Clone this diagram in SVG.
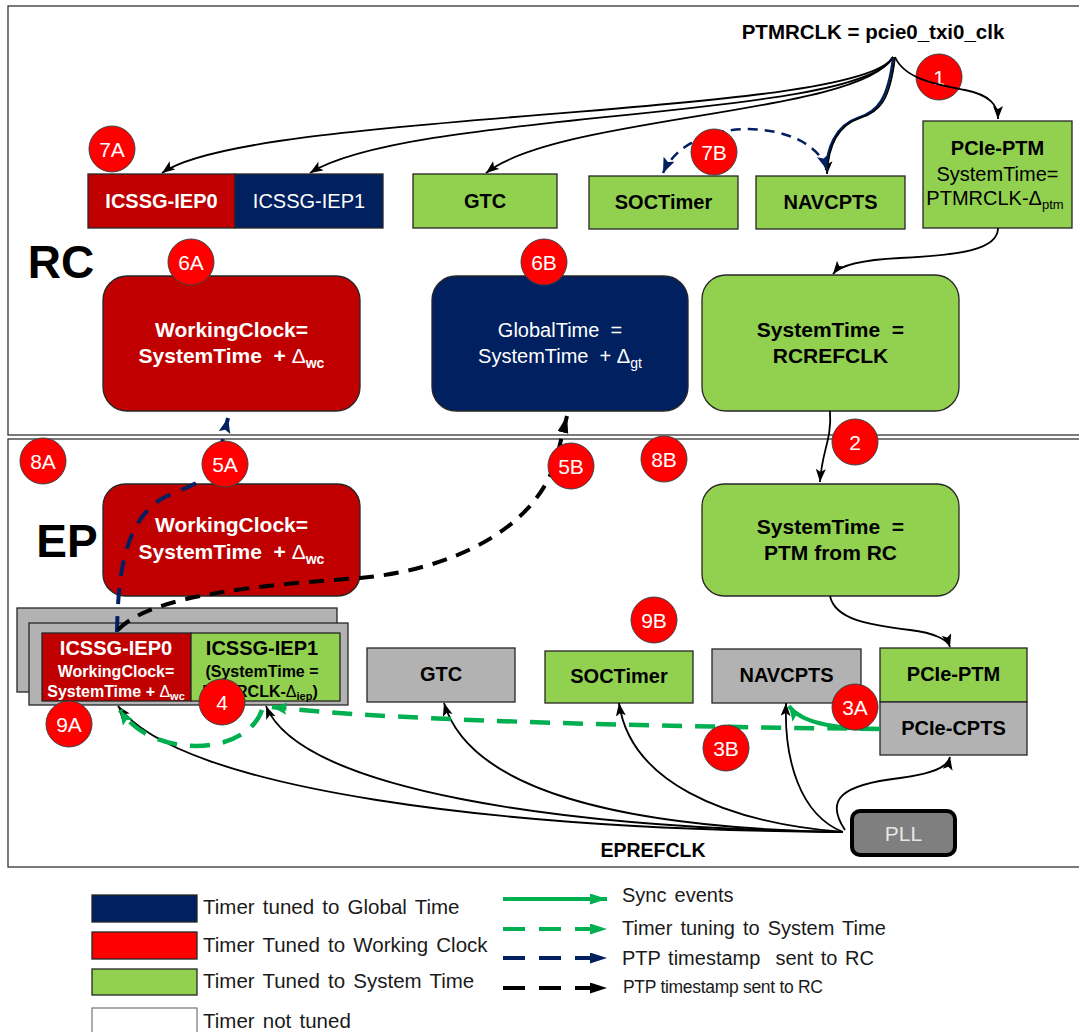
<svg xmlns="http://www.w3.org/2000/svg" width="1079" height="1032" viewBox="0 0 1079 1032">
  <style>
    .t { font-family: "Liberation Sans", Arial, sans-serif; text-anchor: middle; white-space: pre; }
    .l { font-family: "Liberation Sans", Arial, sans-serif; fill: #1a1a1a; white-space: pre; }
    .b { font-weight: bold; }
    .w { fill: #ffffff; }
    .k { fill: #000000; }
    .box { stroke: #262626; stroke-width: 1.3; }
    .red { fill: #C00000; }
    .navy { fill: #002060; }
    .green { fill: #92D050; }
    .gray { fill: #B2B2B2; }
    .frame { fill: none; stroke: #333333; stroke-width: 1.3; }
    .badge circle { fill: #FF0000; stroke: #404040; stroke-width: 1; }
    .badge text { fill: #ffffff; font-size: 21px; font-family: "Liberation Sans", Arial, sans-serif; text-anchor: middle; }
    .clk { fill: none; stroke: #000; stroke-width: 1.8; marker-end: url(#ah-black); }
    .gdash { fill: none; stroke: #00B050; stroke-width: 4.5; stroke-dasharray: 20 13; }
    .ndash { fill: none; stroke: #002060; stroke-width: 4; stroke-dasharray: 16 12; }
    .kdash { fill: none; stroke: #000; stroke-width: 4; stroke-dasharray: 15 10; }
  </style>
  <defs>
    <marker id="ah-black" markerUnits="userSpaceOnUse" markerWidth="14" markerHeight="12" refX="13" refY="5" orient="auto">
      <path d="M0,0 L13,5 L0,10 L3,5 z" fill="#000"/>
    </marker>
    <marker id="ah-navy" markerUnits="userSpaceOnUse" markerWidth="16" markerHeight="14" refX="15" refY="6" orient="auto-start-reverse">
      <path d="M0,0 L15,6 L0,12 L3,6 z" fill="#002060"/>
    </marker>
    <marker id="ah-green" markerUnits="userSpaceOnUse" markerWidth="16" markerHeight="14" refX="15" refY="6" orient="auto">
      <path d="M0,0 L15,6 L0,12 L3,6 z" fill="#00B050"/>
    </marker>
    <marker id="lg-green" markerUnits="userSpaceOnUse" markerWidth="18" markerHeight="12" refX="17" refY="5.5" orient="auto">
      <path d="M0,0 L17,5.5 L0,11 z" fill="#00B050"/>
    </marker>
    <marker id="lg-navy" markerUnits="userSpaceOnUse" markerWidth="18" markerHeight="12" refX="17" refY="5.5" orient="auto">
      <path d="M0,0 L17,5.5 L0,11 z" fill="#002060"/>
    </marker>
    <marker id="lg-black" markerUnits="userSpaceOnUse" markerWidth="18" markerHeight="12" refX="17" refY="5.5" orient="auto">
      <path d="M0,0 L17,5.5 L0,11 z" fill="#000"/>
    </marker>
  </defs>

  <rect width="1079" height="1032" fill="#ffffff"/>

  <!-- RC and EP domain frames -->
  <rect class="frame" x="8" y="6" width="1080" height="429"/>
  <rect class="frame" x="8" y="439" width="1080" height="428"/>
  <text class="t b k" x="61" y="278" font-size="46">RC</text>
  <text class="t b k" x="67" y="557" font-size="46">EP</text>
  <text class="t b k" x="873" y="39" font-size="20.5">PTMRCLK = pcie0_txi0_clk</text>
  <text class="t b k" x="653" y="857" font-size="19.5">EPREFCLK</text>

  <!-- RC timers -->
  <g id="rc-iep0">
    <rect class="box red" x="88" y="174" width="147" height="54"/>
    <text class="t b w" x="161.5" y="208" font-size="20">ICSSG-IEP0</text>
  </g>
  <g id="rc-iep1">
    <rect class="box navy" x="235" y="174" width="148" height="54"/>
    <text class="t w" x="309" y="208" font-size="20">ICSSG-IEP1</text>
  </g>
  <g id="rc-gtc">
    <rect class="box green" x="413" y="174" width="144" height="54"/>
    <text class="t b k" x="485" y="208" font-size="20">GTC</text>
  </g>
  <g id="rc-soctimer">
    <rect class="box green" x="589" y="176" width="149" height="53"/>
    <text class="t b k" x="663.5" y="209" font-size="20">SOCTimer</text>
  </g>
  <g id="rc-navcpts">
    <rect class="box green" x="756" y="176" width="149" height="53"/>
    <text class="t b k" x="830.5" y="209" font-size="20">NAVCPTS</text>
  </g>
  <g id="rc-pcie-ptm">
    <rect class="box green" x="923" y="121" width="149" height="107"/>
    <text class="t b k" x="997.5" y="155" font-size="20">PCIe-PTM</text>
    <text class="t k" x="997.5" y="181" font-size="20">SystemTime=</text>
    <text class="t k" x="995" y="205" font-size="20">PTMRCLK-Δ<tspan font-size="13" dy="4">ptm</tspan></text>
  </g>

  <!-- RC time bases -->
  <g id="rc-working-clock">
    <rect class="box red" x="103" y="276" width="257" height="135" rx="24"/>
    <text class="t b w" x="231.5" y="337" font-size="21">WorkingClock=</text>
    <text class="t b w" x="231.5" y="363" font-size="21">SystemTime  + <tspan font-weight="normal">Δ</tspan><tspan font-size="14" dy="5">wc</tspan></text>
  </g>
  <g id="rc-global-time">
    <rect class="box navy" x="432" y="276" width="256" height="135" rx="24"/>
    <text class="t w" x="560" y="337" font-size="20">GlobalTime  =</text>
    <text class="t w" x="560" y="363" font-size="20">SystemTime  + Δ<tspan font-size="14" dy="5">gt</tspan></text>
  </g>
  <g id="rc-system-time">
    <rect class="box green" x="702" y="275" width="257" height="136" rx="24"/>
    <text class="t b k" x="830.5" y="337" font-size="21">SystemTime  =</text>
    <text class="t b k" x="830.5" y="363" font-size="21">RCREFCLK</text>
  </g>

  <!-- EP time bases -->
  <g id="ep-working-clock">
    <rect class="box red" x="103" y="484" width="257" height="112" rx="22"/>
    <text class="t b w" x="231.5" y="532" font-size="21">WorkingClock=</text>
    <text class="t b w" x="231.5" y="559" font-size="21">SystemTime  + <tspan font-weight="normal">Δ</tspan><tspan font-size="14" dy="5">wc</tspan></text>
  </g>
  <g id="ep-system-time">
    <rect class="box green" x="702" y="484" width="257" height="112" rx="22"/>
    <text class="t b k" x="830.5" y="534" font-size="21">SystemTime  =</text>
    <text class="t b k" x="830.5" y="560" font-size="21">PTM from RC</text>
  </g>

  <!-- EP timers -->
  <g id="ep-icssg">
    <rect class="box gray" x="17" y="608" width="320" height="84"/>
    <rect class="box gray" x="29" y="623" width="319" height="82"/>
    <rect class="box red" x="42" y="633" width="149" height="68"/>
    <rect class="box green" x="191" y="633" width="149" height="68"/>
    <text class="t b w" x="116" y="655" font-size="20">ICSSG-IEP0</text>
    <text class="t b w" x="116" y="677" font-size="16">WorkingClock=</text>
    <text class="t b w" x="116" y="697" font-size="16">SystemTime + <tspan font-weight="normal">Δ</tspan><tspan font-size="11" dy="3">wc</tspan></text>
    <text class="t b k" x="262" y="655" font-size="20">ICSSG-IEP1</text>
    <text class="t b k" x="262" y="677" font-size="16">(SystemTime =</text>
    <text class="t b k" x="260" y="697" font-size="16">PTMRCLK-<tspan font-weight="normal">Δ</tspan><tspan font-size="11" dy="3">iep</tspan><tspan dy="-3">)</tspan></text>
  </g>
  <g id="ep-gtc">
    <rect class="box gray" x="367" y="648" width="148" height="54"/>
    <text class="t b k" x="441" y="681" font-size="20">GTC</text>
  </g>
  <g id="ep-soctimer">
    <rect class="box green" x="545" y="651" width="148" height="52"/>
    <text class="t b k" x="619" y="683" font-size="20">SOCTimer</text>
  </g>
  <g id="ep-navcpts">
    <rect class="box gray" x="712" y="649" width="149" height="54"/>
    <text class="t b k" x="786.5" y="682" font-size="20">NAVCPTS</text>
  </g>
  <g id="ep-pcie-ptm">
    <rect class="box green" x="880" y="648" width="147" height="54"/>
    <text class="t b k" x="953.5" y="681" font-size="20">PCIe-PTM</text>
  </g>
  <g id="ep-pcie-cpts">
    <rect class="box gray" x="880" y="702" width="147" height="53"/>
    <text class="t b k" x="953.5" y="735" font-size="20">PCIe-CPTS</text>
  </g>
  <g id="ep-pll">
    <rect x="852" y="811" width="103" height="44" rx="8" fill="#7F7F7F" stroke="#000" stroke-width="4"/>
    <text class="t" x="903.5" y="841" font-size="21" fill="#E6E6E6">PLL</text>
  </g>

  <!-- step badge drawn beneath the clock line that crosses it -->
  <g id="step-1" class="badge"><circle cx="939" cy="77" r="23"/><text x="939" y="84.5">1</text></g>

  <!-- connectors -->
  <g id="connectors">
    <!-- PTMRCLK distribution in RC -->
    <path class="clk" d="M893,57 C860,118 250,110 162,173"/>
    <path class="clk" d="M893,57 C860,120 410,110 310,173"/>
    <path class="clk" d="M893,57 C860,115 560,115 486,173"/>
    <path d="M893,58 C888,100 877,112 858,118 C834,126 827,150 826,170" fill="none" stroke="#002060" stroke-width="2.4"/>
    <path class="clk" d="M895,57 C890,100 880,112 860,118 C836,126 828,150 827,174" marker-end="url(#ah-navy)"/>
    <path class="clk" d="M895,57 C905,80 940,85 965,90 C990,95 998,105 998,119"/>
    <path d="M827,170 C812,118 690,112 663,173" fill="none" stroke="#002060" stroke-width="2.5" stroke-dasharray="10 7" marker-start="url(#ah-navy)" marker-end="url(#ah-navy)"/>

    <!-- PTM path RC -> EP -->
    <path class="clk" d="M998,228 C998,250 960,255 900,258 C860,260 840,265 833,274"/>
    <path class="clk" d="M830,411 C832,440 822,450 820,482"/>
    <path class="clk" d="M830,596 C835,620 870,625 910,630 C935,633 948,640 950,647"/>

    <!-- PTP timestamps EP -> RC -->
    <path class="ndash" d="M117,632 C118,590 120,520 165,497 C190,486 205,480 215,472 L228,418" marker-end="url(#ah-navy)"/>
    <path class="kdash" d="M118,630 C150,595 260,585 360,578 C450,570 535,530 556,460 L567,416" marker-end="url(#lg-black)"/>

    <!-- EPREFCLK distribution from PLL -->
    <path class="clk" d="M843,832 C500,830 180,790 118,706"/>
    <path class="clk" d="M843,832 C560,828 300,790 266,706"/>
    <path class="clk" d="M843,832 C620,828 470,790 444,703"/>
    <path class="clk" d="M843,832 C720,822 630,780 619,703"/>
    <path class="clk" d="M843,832 C800,815 784,760 786,703"/>
    <path class="clk" d="M845,830 C825,800 840,785 900,778 C930,774 948,768 950,757"/>

    <!-- sync events and timer tuning in EP -->
    <path d="M880,729 C830,729 800,722 789,706" fill="none" stroke="#00B050" stroke-width="4" marker-end="url(#ah-green)"/>
    <path class="gdash" d="M880,729 C700,727 400,722 272,707" marker-end="url(#ah-green)"/>
    <path class="gdash" d="M262,710 C245,758 150,758 120,710" marker-end="url(#ah-green)"/>
  </g>

  <!-- step badges -->
  <g id="step-7a" class="badge"><circle cx="112" cy="149" r="23"/><text x="112" y="156.5">7A</text></g>
  <g id="step-7b" class="badge"><circle cx="714" cy="152" r="23"/><text x="714" y="159.5">7B</text></g>
  <g id="step-6a" class="badge"><circle cx="191" cy="262" r="23"/><text x="191" y="269.5">6A</text></g>
  <g id="step-6b" class="badge"><circle cx="544" cy="262" r="23"/><text x="544" y="269.5">6B</text></g>
  <g id="step-2" class="badge"><circle cx="855" cy="442" r="23"/><text x="855" y="449.5">2</text></g>
  <g id="step-8a" class="badge"><circle cx="43" cy="461" r="23"/><text x="43" y="468.5">8A</text></g>
  <g id="step-5a" class="badge"><circle cx="225" cy="464" r="23"/><text x="225" y="471.5">5A</text></g>
  <g id="step-5b" class="badge"><circle cx="571" cy="466" r="23"/><text x="571" y="473.5">5B</text></g>
  <g id="step-8b" class="badge"><circle cx="664" cy="459" r="23"/><text x="664" y="466.5">8B</text></g>
  <g id="step-9b" class="badge"><circle cx="654" cy="620" r="23"/><text x="654" y="627.5">9B</text></g>
  <g id="step-9a" class="badge"><circle cx="69" cy="724" r="23"/><text x="69" y="731.5">9A</text></g>
  <g id="step-4" class="badge"><circle cx="222" cy="702" r="23"/><text x="222" y="709.5">4</text></g>
  <g id="step-3a" class="badge"><circle cx="855" cy="707" r="23"/><text x="855" y="714.5">3A</text></g>
  <g id="step-3b" class="badge"><circle cx="726" cy="748" r="23"/><text x="726" y="755.5">3B</text></g>

  <!-- legend -->
  <g id="legend">
    <rect x="92" y="895" width="105" height="27" fill="#002060" stroke="#262626" stroke-width="1.3"/>
    <rect x="92" y="932" width="105" height="27" fill="#FF0000" stroke="#262626" stroke-width="1.3"/>
    <rect x="92" y="969" width="105" height="26" fill="#92D050" stroke="#262626" stroke-width="1.3"/>
    <rect x="92" y="1008" width="105" height="30" fill="#ffffff" stroke="#7F7F7F" stroke-width="1.3"/>
    <text class="l" x="203" y="914" font-size="20.5" word-spacing="2.5">Timer tuned to Global Time</text>
    <text class="l" x="203" y="952" font-size="20.5" word-spacing="2.5">Timer Tuned to Working Clock</text>
    <text class="l" x="203" y="988" font-size="20.5" word-spacing="2.5">Timer Tuned to System Time</text>
    <text class="l" x="203" y="1028" font-size="20.5" word-spacing="2.5">Timer not tuned</text>

    <line x1="503" y1="899" x2="607" y2="899" stroke="#00B050" stroke-width="4" marker-end="url(#lg-green)"/>
    <line x1="503" y1="929" x2="607" y2="929" stroke="#00B050" stroke-width="4" stroke-dasharray="22 14" marker-end="url(#lg-green)"/>
    <line x1="503" y1="958" x2="607" y2="958" stroke="#002060" stroke-width="4" stroke-dasharray="22 14" marker-end="url(#lg-navy)"/>
    <line x1="503" y1="988" x2="607" y2="988" stroke="#000" stroke-width="4" stroke-dasharray="22 14" marker-end="url(#lg-black)"/>
    <text class="l" x="622" y="902" font-size="20" word-spacing="2.5">Sync events</text>
    <text class="l" x="622" y="935" font-size="20" word-spacing="2.5">Timer tuning to System Time</text>
    <text class="l" x="622" y="965" font-size="20" word-spacing="2">PTP timestamp  sent to RC</text>
    <text class="l" x="623" y="993" font-size="17.5" letter-spacing="-0.3">PTP timestamp sent to RC</text>
  </g>
</svg>
